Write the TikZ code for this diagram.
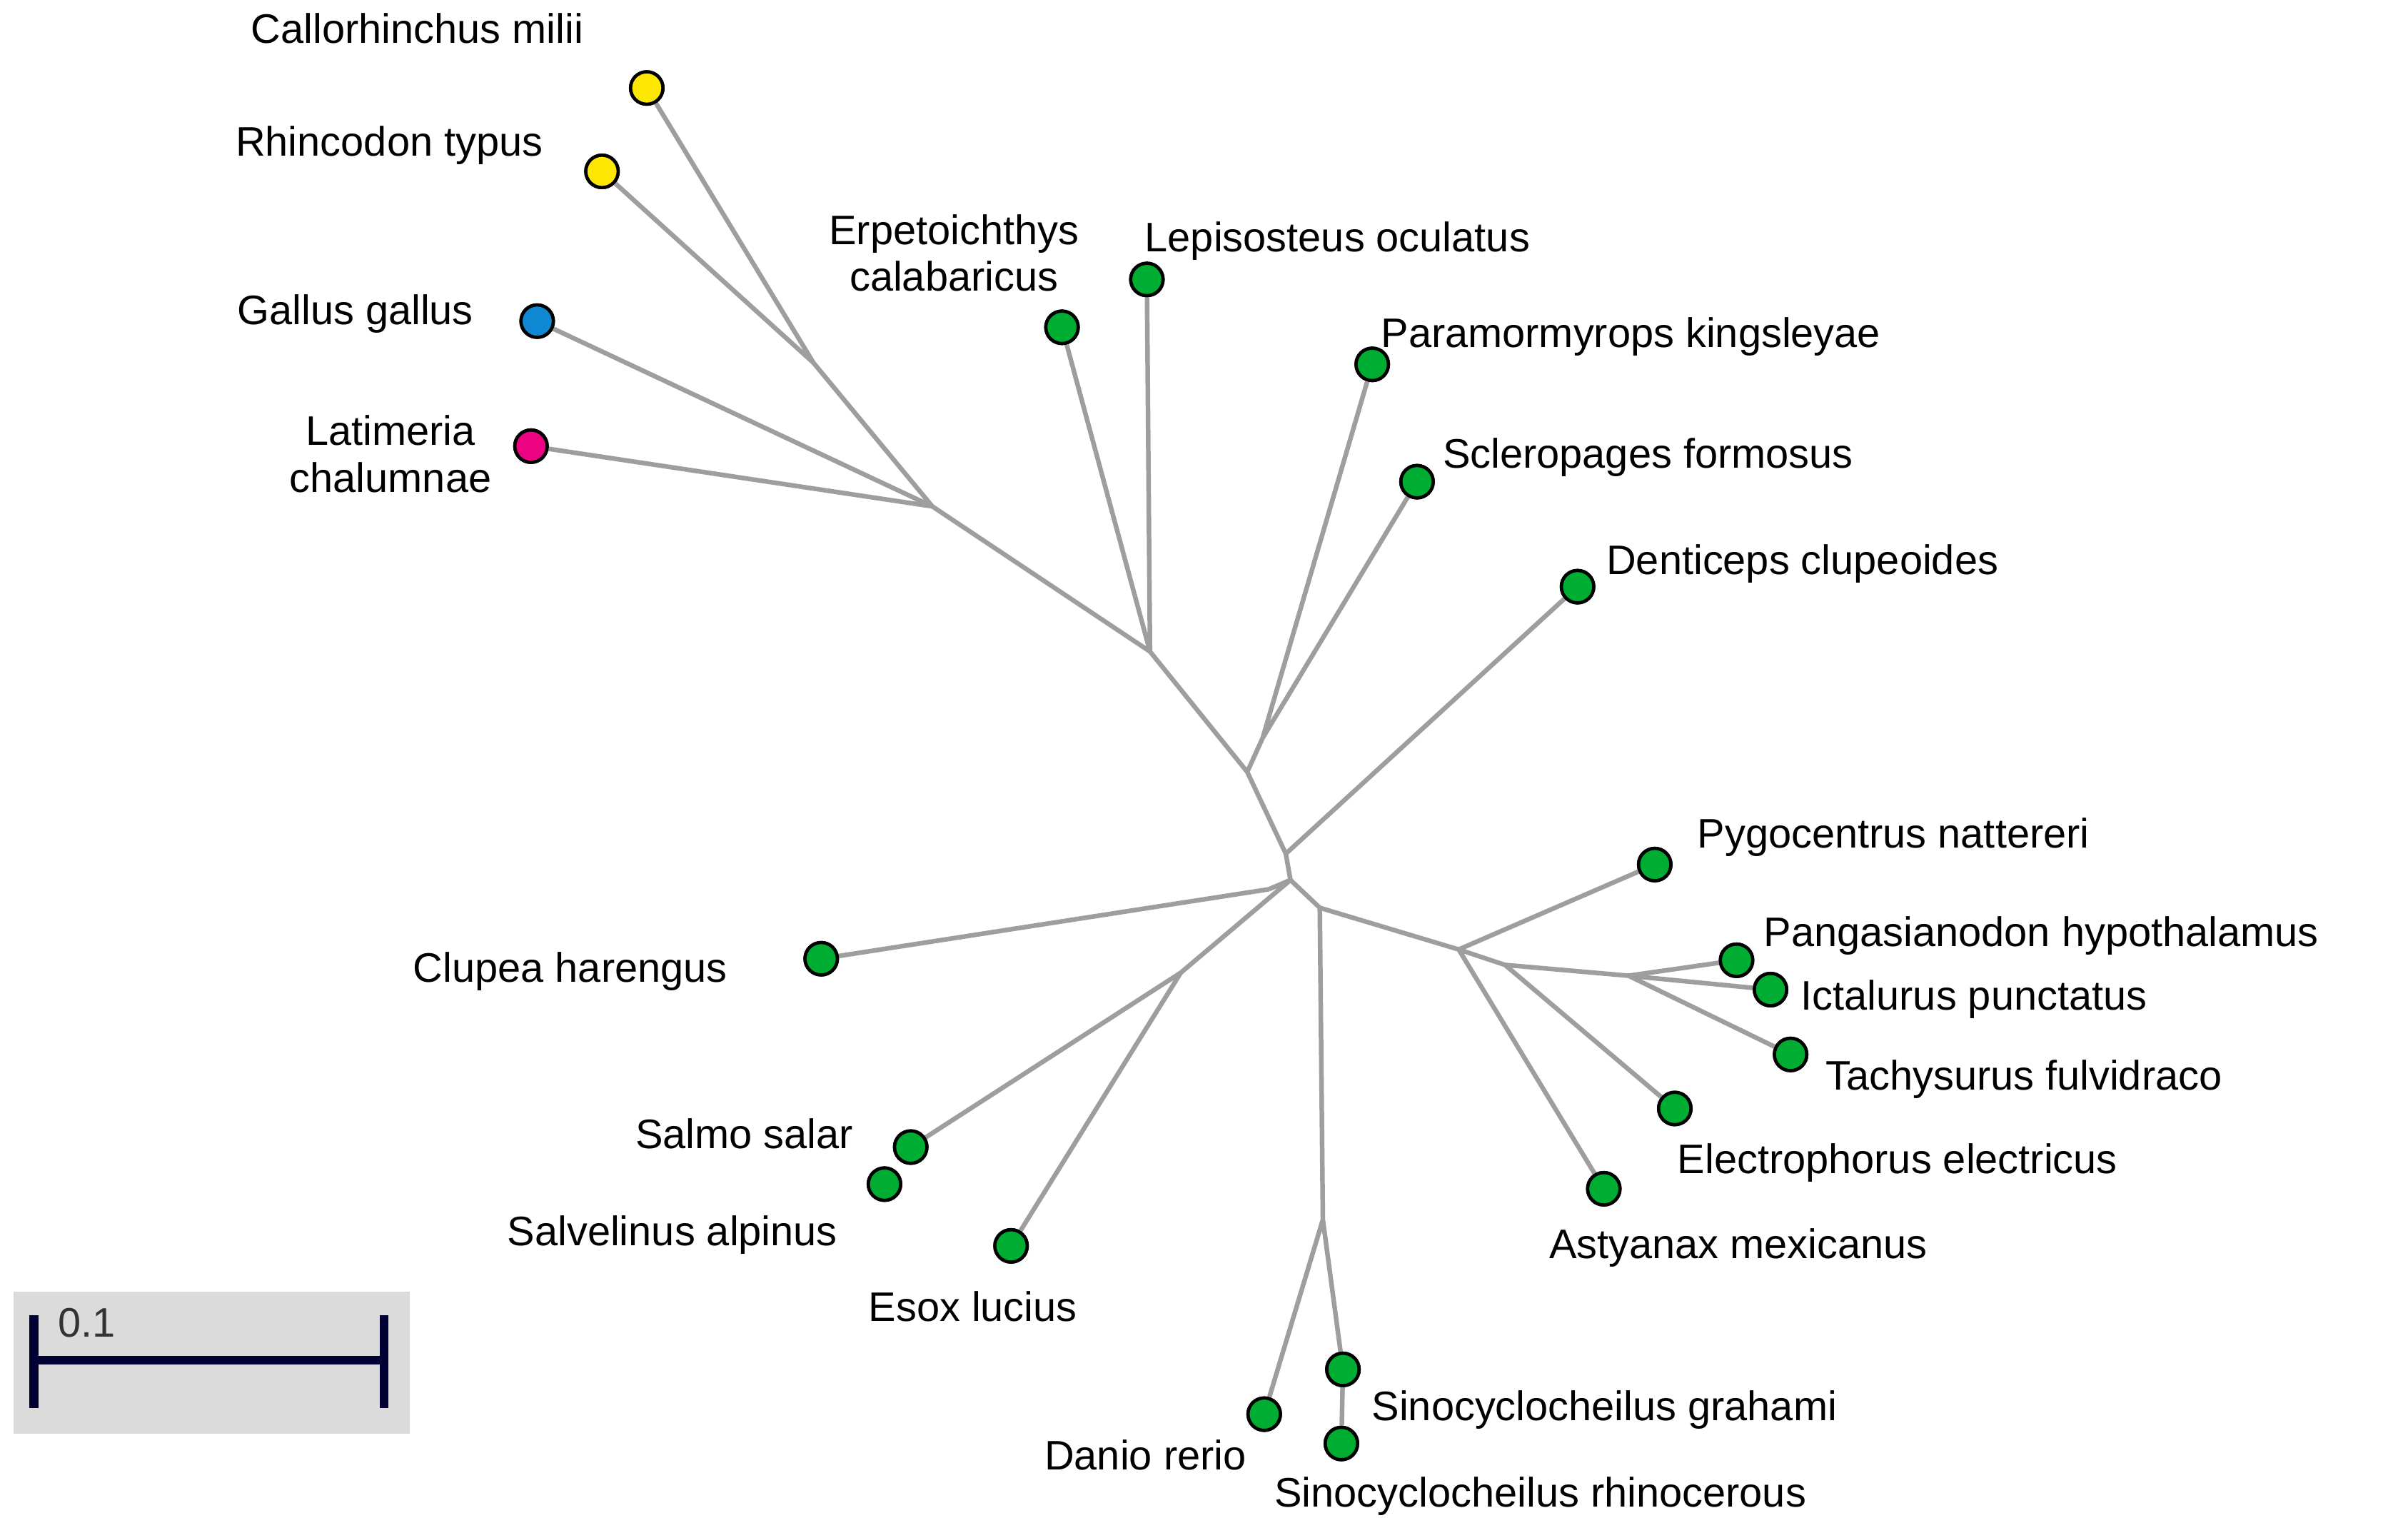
\documentclass[tikz,border=0pt]{standalone}
\usepackage{fontspec}
\setmainfont{Liberation Sans}
\begin{document}
\begin{tikzpicture}[x=0.1mm,y=-0.1mm,
  br/.style={draw=black!38,line width=0.85pt},
  leaf/.style={circle,draw=black,line width=0.6pt,minimum size=2.1mm,inner sep=0pt},
  gr/.style={leaf,fill=green!60!black!80!cyan},
  ye/.style={leaf,fill=yellow!90!orange},
  bl/.style={leaf,fill=cyan!70!blue},
  mg/.style={leaf,fill=magenta!90!red},
  lab/.style={font=\fontsize{7.6pt}{8.6pt}\selectfont,inner sep=0pt,align=center}]
\useasboundingbox (0,0) rectangle (1560,983);
% internal nodes
\coordinate (i1) at (527,235);
\coordinate (i2) at (604,328);
\coordinate (i3) at (745,422);
\coordinate (i4) at (808,500);
\coordinate (i4b) at (818,478);
\coordinate (i5) at (833,553);
\coordinate (c) at (836,570);
\coordinate (cl) at (822,576);
\coordinate (sa) at (765,630);
\coordinate (r1) at (855,588);
\coordinate (r2) at (945,615);
\coordinate (r3) at (975,625);
\coordinate (r4) at (1055,632);
\coordinate (d1) at (857,790);
% leaves
\node[ye] (cal) at (419,57) {};
\node[ye] (rhi) at (390,111) {};
\node[bl] (gal) at (348,208) {};
\node[mg] (lat) at (344,289) {};
\node[gr] (erp) at (688,212) {};
\node[gr] (lep) at (743,181) {};
\node[gr] (par) at (889,236) {};
\node[gr] (scl) at (918,312) {};
\node[gr] (den) at (1022,380) {};
\node[gr] (clu) at (532,621) {};
\node[gr] (sal) at (590,743) {};
\node[gr] (slv) at (573,767) {};
\node[gr] (eso) at (655,807) {};
\node[gr] (pyg) at (1072,560) {};
\node[gr] (pan) at (1125,622) {};
\node[gr] (ict) at (1147,641) {};
\node[gr] (tac) at (1160,683) {};
\node[gr] (ele) at (1085,718) {};
\node[gr] (ast) at (1039,770) {};
\node[gr] (dan) at (819,916) {};
\node[gr] (sgr) at (870,887) {};
\node[gr] (srh) at (869,935) {};
% branches
\begin{scope}[on background layer/.style={}]
\draw[br] (cal) -- (i1) (rhi) -- (i1) (i1) -- (i2) (gal) -- (i2) (lat) -- (i2)
  (i2) -- (i3) (erp) -- (i3) (lep) -- (i3) (i3) -- (i4)
  (par) -- (i4b) (scl) -- (i4b) (i4b) -- (i4) (i4) -- (i5) (den) -- (i5) (i5) -- (c)
  (clu) -- (cl) (cl) -- (c) (sal) -- (sa) (eso) -- (sa) (sa) -- (c)
  (c) -- (r1) (r1) -- (r2) (r2) -- (pyg) (r2) -- (ast) (r2) -- (r3) (r3) -- (ele)
  (r3) -- (r4) (r4) -- (pan) (r4) -- (ict) (r4) -- (tac)
  (r1) -- (d1) (d1) -- (dan) (d1) -- (sgr) (sgr) -- (srh);
\end{scope}
% redraw dots on top
\foreach \n/\s in {cal/ye,rhi/ye,gal/bl,lat/mg,erp/gr,lep/gr,par/gr,scl/gr,den/gr,clu/gr,sal/gr,slv/gr,eso/gr,pyg/gr,pan/gr,ict/gr,tac/gr,ele/gr,ast/gr,dan/gr,sgr/gr,srh/gr}
  \node[\s] at (\n) {};
% labels
\node[lab,anchor=base west] (tcal) at (162,28) {Callorhinchus milii};
\node[lab,anchor=base west] (trhi) at (152,101) {Rhincodon typus};
\node[lab,anchor=base west] (tgal) at (153,210) {Gallus gallus};
\node[lab] (tlat) at (253,294) {Latimeria\\chalumnae};
\node[lab] (terp) at (618,164) {Erpetoichthys\\calabaricus};
\node[lab,anchor=base west] (tlep) at (741,163) {Lepisosteus oculatus};
\node[lab,anchor=base west] (tpar) at (894,225) {Paramormyrops kingsleyae};
\node[lab,anchor=base west] (tscl) at (934,303) {Scleropages formosus};
\node[lab,anchor=base west] (tden) at (1040,372) {Denticeps clupeoides};
\node[lab,anchor=base west] (tpyg) at (1099,549) {Pygocentrus nattereri};
\node[lab,anchor=base west] (tpan) at (1142,613) {Pangasianodon hypothalamus};
\node[lab,anchor=base west] (tict) at (1166,654) {Ictalurus punctatus};
\node[lab,anchor=base west] (ttac) at (1182,706) {Tachysurus fulvidraco};
\node[lab,anchor=base west] (tele) at (1086,760) {Electrophorus electricus};
\node[lab,anchor=base west] (tast) at (1003,815) {Astyanax mexicanus};
\node[lab,anchor=base west] (tclu) at (267,636) {Clupea harengus};
\node[lab,anchor=base west] (tsal) at (411,744) {Salmo salar};
\node[lab,anchor=base west] (tslv) at (328,807) {Salvelinus alpinus};
\node[lab,anchor=base west] (teso) at (562,856) {Esox lucius};
\node[lab,anchor=base west] (tdan) at (676,952) {Danio rerio};
\node[lab,anchor=base west] (tsgr) at (888,920) {Sinocyclocheilus grahami};
\node[lab,anchor=base west] (tsrh) at (825,976) {Sinocyclocheilus rhinocerous};
% scale bar
\node[fill=black!14,minimum width=25.7mm,minimum height=9.2mm,inner sep=0pt,anchor=north west] (sbox) at (8,836) {};
\coordinate (sb1) at (22,881);
\coordinate (sb2) at (249,881);
\draw[line width=1.6pt,draw=black!80!blue] (sb1) -- (sb2) (22,852) -- (22,912) (249,852) -- (249,912);
\node[lab,anchor=base west,text=black!80] (tsb) at (37,866) {0.1};
\end{tikzpicture}
\end{document}
